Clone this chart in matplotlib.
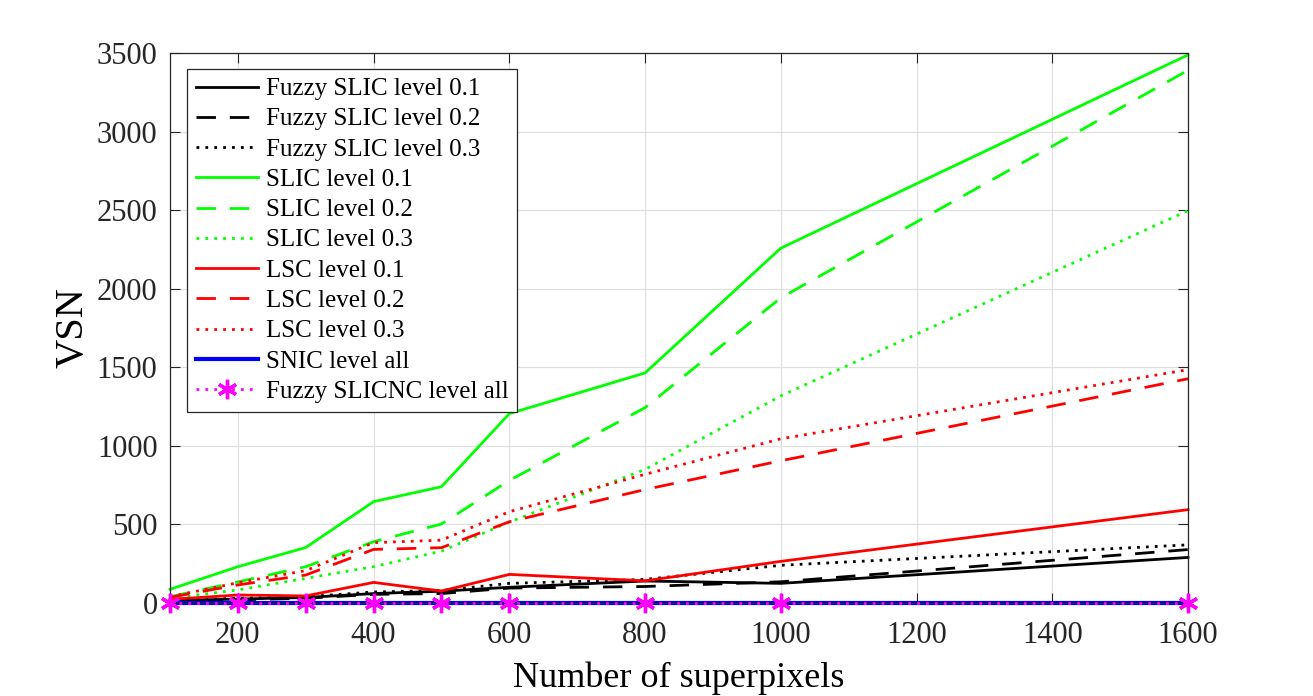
import matplotlib.pyplot as plt

plt.rcParams['font.family'] = ['Liberation Serif', 'DejaVu Serif']

# number of superpixels
x = [100, 200, 300, 400, 500, 600, 800, 1000, 1600]

# VSN values
fuzzy_01 = [15, 25, 35, 60, 75, 100, 140, 125, 290]
fuzzy_02 = [10, 20, 30, 55, 60, 95, 105, 135, 340]
fuzzy_03 = [18, 30, 40, 70, 80, 125, 150, 240, 370]
slic_01 = [87, 231, 353, 645, 740, 1205, 1464, 2258, 3488]
slic_02 = [40, 134, 231, 390, 503, 780, 1243, 1942, 3390]
slic_03 = [30, 83, 157, 231, 330, 515, 850, 1318, 2497]
lsc_01 = [23, 51, 45, 131, 76, 182, 141, 265, 594]
lsc_02 = [36, 115, 178, 341, 352, 517, 722, 905, 1427]
lsc_03 = [40, 129, 206, 384, 400, 581, 819, 1045, 1485]
snic_all = [0, 0, 0, 0, 0, 0, 0, 0, 0]
slicnc_all = [0, 0, 0, 0, 0, 0, 0, 0, 0]

fig = plt.figure(figsize=(13.13, 6.96), dpi=100)
ax = fig.add_axes([170 / 1313, 1 - 603 / 696, 1018 / 1313, 550 / 696])

lw = 2.0
dash = (0, (7, 5))
dot = (0, (1, 2.2))

ax.plot(x, fuzzy_01, color='black', lw=lw, ls='-', label='Fuzzy SLIC level 0.1', clip_on=False)
ax.plot(x, fuzzy_02, color='black', lw=lw, ls=dash, label='Fuzzy SLIC level 0.2', clip_on=False)
ax.plot(x, fuzzy_03, color='black', lw=lw, ls=dot, label='Fuzzy SLIC level 0.3', clip_on=False)
ax.plot(x, slic_01, color='#00ff00', lw=lw, ls='-', label='SLIC level 0.1', clip_on=False)
ax.plot(x, slic_02, color='#00ff00', lw=lw, ls=dash, label='SLIC level 0.2', clip_on=False)
ax.plot(x, slic_03, color='#00ff00', lw=lw, ls=dot, label='SLIC level 0.3', clip_on=False)
ax.plot(x, lsc_01, color='red', lw=lw, ls='-', label='LSC level 0.1', clip_on=False)
ax.plot(x, lsc_02, color='red', lw=lw, ls=dash, label='LSC level 0.2', clip_on=False)
ax.plot(x, lsc_03, color='red', lw=lw, ls=dot, label='LSC level 0.3', clip_on=False)
ax.plot(x, snic_all, color='blue', lw=lw + 1, ls='-', label='SNIC level all', clip_on=False)
ax.plot(x, slicnc_all, color='magenta', lw=lw, ls=dot, marker=(6, 2, 0), ms=14,
        mew=2.4, mec='magenta', label='Fuzzy SLICNC level all', clip_on=False, zorder=5)

ax.set_xlim(100, 1600)
ax.set_ylim(0, 3500)
ax.set_xticks([200, 400, 600, 800, 1000, 1200, 1400, 1600])
ax.set_yticks(range(0, 3501, 500))
ax.tick_params(direction='in', length=7, width=0.8, top=True, right=True,
               labelsize=22, labelcolor='#262626', colors='#262626')
ax.tick_params(axis='x', pad=13)
ax.tick_params(axis='y', pad=9)
ax.grid(True, color='#e0e0e0', lw=0.9)
ax.set_axisbelow(True)
for s in ax.spines.values():
    s.set_color('#262626')
    s.set_linewidth(0.9)

ax.set_xlabel('Number of superpixels', fontsize=26, labelpad=8)
ax.set_ylabel('VSN', fontsize=29, labelpad=4)

leg = ax.legend(loc='upper left', bbox_to_anchor=(17 / 1018, 1 - 16 / 550),
                borderaxespad=0, fontsize=18, handlelength=2.5, handletextpad=0.3,
                labelspacing=0.31, borderpad=0.35, fancybox=False, framealpha=1)
leg.get_frame().set_edgecolor('#262626')
leg.get_frame().set_linewidth(0.9)

fig.savefig('out.png', dpi=100)
